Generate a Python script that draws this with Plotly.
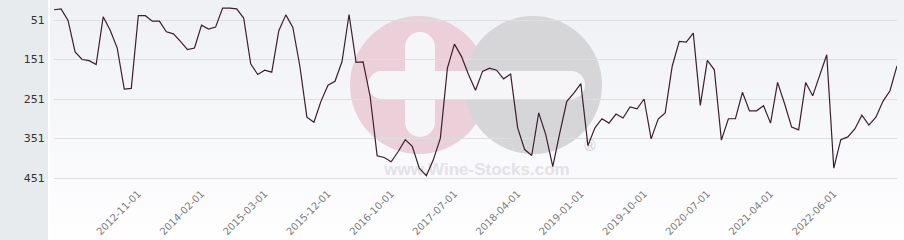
import plotly.graph_objects as go

# ---- data ----
dates = [
    "2011-11-01", "2011-12-01", "2012-01-01", "2012-02-01", "2012-03-01", "2012-04-01",
    "2012-05-01", "2012-06-01", "2012-07-01", "2012-08-01", "2012-09-01", "2012-10-01",
    "2012-11-01", "2013-01-01", "2013-03-01", "2013-05-01", "2013-06-01", "2013-08-01",
    "2013-10-01", "2013-11-01", "2013-12-01", "2014-02-01", "2014-04-01", "2014-06-01",
    "2014-07-01", "2014-08-01", "2014-09-01", "2014-10-01", "2014-12-01", "2015-01-01",
    "2015-03-01", "2015-04-01", "2015-05-01", "2015-06-01", "2015-07-01", "2015-08-01",
    "2015-09-01", "2015-10-01", "2015-11-01", "2015-12-01", "2016-01-01", "2016-02-01",
    "2016-03-01", "2016-04-01", "2016-05-01", "2016-06-01", "2016-07-01", "2016-08-01",
    "2016-10-01", "2016-11-01", "2016-12-01", "2017-01-01", "2017-02-01", "2017-03-01",
    "2017-04-01", "2017-05-01", "2017-06-01", "2017-07-01", "2017-08-01", "2017-09-01",
    "2017-10-01", "2017-11-01", "2017-12-01", "2018-01-01", "2018-02-01", "2018-03-01",
    "2018-04-01", "2018-05-01", "2018-06-01", "2018-07-01", "2018-08-01", "2018-09-01",
    "2018-10-01", "2018-11-01", "2018-12-01", "2019-01-01", "2019-02-01", "2019-03-01",
    "2019-04-01", "2019-05-01", "2019-06-01", "2019-07-01", "2019-08-01", "2019-09-01",
    "2019-10-01", "2019-11-01", "2019-12-01", "2020-01-01", "2020-02-01", "2020-03-01",
    "2020-04-01", "2020-05-01", "2020-06-01", "2020-07-01", "2020-08-01", "2020-09-01",
    "2020-10-01", "2020-11-01", "2020-12-01", "2021-01-01", "2021-02-01", "2021-03-01",
    "2021-04-01", "2021-05-01", "2021-07-01", "2021-08-01", "2021-10-01", "2021-11-01",
    "2022-01-01", "2022-02-01", "2022-04-01", "2022-06-01", "2022-07-01", "2022-08-01",
    "2022-09-01", "2022-10-01", "2022-11-01", "2022-12-01", "2023-01-01", "2023-02-01",
    "2023-03-01",
]

rank = [
    25, 23, 52, 132, 151, 154, 164, 43, 77, 122, 226, 224, 40, 40, 54, 54, 81, 86, 105, 126,
    122, 64, 74, 69, 21, 21, 23, 46, 162, 189, 178, 183, 78, 38, 70, 168, 297, 310, 257, 216,
    206, 156, 37, 158, 157, 244, 395, 399, 410, 384, 354, 371, 426, 445, 405, 350, 173, 112, 143, 189,
    229, 181, 173, 178, 200, 188, 324, 379, 394, 286, 341, 422, 337, 257, 236, 212, 369, 324, 301, 312,
    289, 299, 271, 276, 251, 352, 302, 286, 168, 105, 107, 84, 267, 153, 177, 355, 301, 301, 234, 281,
    281, 268, 312, 209, 263, 322, 329, 209, 243, 192, 139, 426, 354, 347, 327, 292, 317, 297, 257, 230,
    167,
]

x_tick_labels = [
    "2012-11-01", "2014-02-01", "2015-03-01", "2015-12-01", "2016-10-01", "2017-07-01",
    "2018-04-01", "2019-01-01", "2019-10-01", "2020-07-01", "2021-04-01", "2022-06-01",
]
y_tick_values = [51, 151, 251, 351, 451]

# ---- layout geometry (pixels) ----
W, H = 904, 240
ML, MR, MT, MB = 54, 7, 2, 55
PW, PH = W - ML - MR, H - MT - MB


def px(xp):
    return (xp - ML) / PW


def py(yp):
    return (H - MB - yp) / PH


shapes = []

# left grey panel
shapes.append(dict(type="rect", xref="paper", yref="paper", layer="below",
                   x0=px(0), x1=px(48), y0=py(H), y1=py(0),
                   fillcolor="#e8ebee", line=dict(width=0)))

# vertical gradient background of the plotting region
n_bands = 30
top_c = (240, 241, 245)
bot_c = (254, 254, 255)
for k in range(n_bands):
    t = k / (n_bands - 1)
    c = tuple(round(top_c[j] + (bot_c[j] - top_c[j]) * t) for j in range(3))
    y0p = H * k / n_bands
    y1p = H * (k + 1) / n_bands + 0.5
    shapes.append(dict(type="rect", xref="paper", yref="paper", layer="below",
                       x0=px(50), x1=px(W), y0=py(y1p), y1=py(y0p),
                       fillcolor="rgb(%d,%d,%d)" % c, line=dict(width=0)))


def circle(cx, cy, r, color):
    return dict(type="circle", xref="paper", yref="paper", layer="below",
                x0=px(cx - r), x1=px(cx + r), y0=py(cy + r), y1=py(cy - r),
                fillcolor=color, line=dict(width=0))


def rect(x0, y0, x1, y1, color):
    return dict(type="rect", xref="paper", yref="paper", layer="below",
                x0=px(x0), x1=px(x1), y0=py(y1), y1=py(y0),
                fillcolor=color, line=dict(width=0))


# watermark logo
pink = "#ebd0d9"
grey = "#d6d6d9"
hole = "#f6f6f9"
shapes.append(circle(419, 85, 69, pink))
shapes.append(circle(533, 85, 69, grey))
# plus vertical bar
shapes.append(rect(405, 47, 435, 122, hole))
shapes.append(circle(420, 47, 15, hole))
shapes.append(circle(420, 122, 15, hole))
# horizontal bar
shapes.append(rect(382, 71, 571, 99, hole))
shapes.append(circle(382, 85, 14, hole))
shapes.append(circle(571, 85, 14, hole))
# watermark text
shapes.append(dict(type="rect", xref="paper", yref="paper", layer="below",
                   x0=px(372), x1=px(582), y0=py(177), y1=py(157),
                   fillcolor="rgba(0,0,0,0)", line=dict(width=0),
                   label=dict(text="www.Wine-Stocks.com", textposition="middle center",
                              font=dict(family="Liberation Sans", size=17,
                                        color="#e2e2e7", weight="bold"))))
shapes.append(dict(type="rect", xref="paper", yref="paper", layer="below",
                   x0=px(580), x1=px(600), y0=py(155), y1=py(135),
                   fillcolor="rgba(0,0,0,0)", line=dict(width=0),
                   label=dict(text="®", textposition="middle center",
                              font=dict(family="DejaVu Sans", size=15, color="#d2d2d6"))))

fig = go.Figure()
fig.add_trace(go.Scatter(
    x=dates, y=rank, mode="lines",
    line=dict(color="#3b1f2c", width=1.2),
    hoverinfo="x+y", showlegend=False,
))

# y range so that 51 -> pixel 20 and 451 -> pixel 178
scale = (178 - 20) / 400.0
y_top = 51 - (20 - MT) / scale
y_bot = 51 + (H - MB - 20) / scale

fig.update_layout(
    width=W, height=H,
    margin=dict(l=ML, r=MR, t=MT, b=MB, pad=0, autoexpand=False),
    paper_bgcolor="white",
    plot_bgcolor="rgba(0,0,0,0)",
    shapes=shapes,
    showlegend=False,
    xaxis=dict(
        type="category",
        automargin=False,
        range=[0, len(dates) - 1],
        tickmode="array", tickvals=x_tick_labels, ticktext=x_tick_labels,
        tickangle=-45,
        ticks="", ticklen=0,
        tickfont=dict(family="DejaVu Sans", size=10, color="#7c7c7c"),
        showgrid=False, zeroline=False, showline=False,
    ),
    yaxis=dict(
        automargin=False,
        range=[y_bot, y_top],
        tickmode="array", tickvals=y_tick_values,
        ticktext=[str(v) for v in y_tick_values],
        ticks="outside", ticklen=6, tickcolor="rgba(0,0,0,0)",
        tickfont=dict(family="DejaVu Sans", size=11, color="#333333"),
        showgrid=True, gridcolor="#dedede", gridwidth=1,
        zeroline=False, showline=False,
    ),
)

fig.write_html("out.html")
